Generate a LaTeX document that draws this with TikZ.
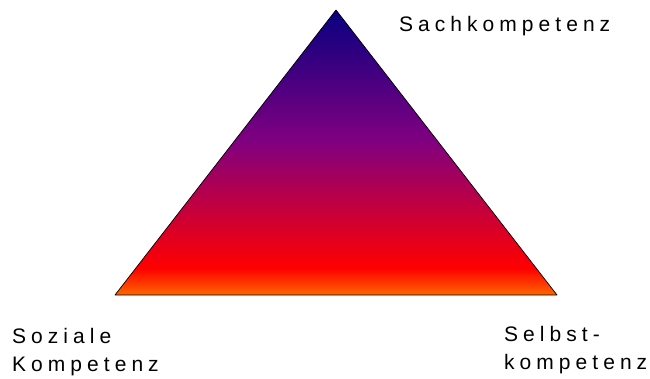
\documentclass[tikz,border=0pt]{standalone}
\usepackage{fontspec}
\setmainfont{Liberation Sans}[LetterSpace=24]
\definecolor{navyK}{RGB}{8,0,128}
\definecolor{purpleK}{RGB}{128,0,128}
\definecolor{redK}{RGB}{255,0,0}
\definecolor{orangeK}{RGB}{255,102,0}
\pgfdeclareverticalshading{kompetenz}{100bp}{color(0bp)=(orangeK); color(25bp)=(orangeK); color(29.7bp)=(redK); color(52bp)=(purpleK); color(75bp)=(navyK); color(100bp)=(navyK)}

\begin{document}
\begin{tikzpicture}[x=1pt,y=-1pt,line join=round,
  label/.style={anchor=base west,inner sep=0pt,align=left,font=\fontsize{21}{28.3}\selectfont}]
\useasboundingbox (0,0) rectangle (650,379);
\coordinate (sach) at (336,10);\coordinate (sozial) at (115,295);\coordinate (selbst) at (557,295);
\shade[shading=kompetenz,draw=black,line width=0.7pt] (sach)--(sozial)--(selbst)--cycle;
\node[label] (sachtext) at (399,31.7) {Sachkompetenz};
\node[label] (soztext) at (12,371.8) {Soziale\\Kompetenz};
\node[label] (selbsttext) at (504,369.3) {Selbst-\\kompetenz};
\end{tikzpicture}
\end{document}
